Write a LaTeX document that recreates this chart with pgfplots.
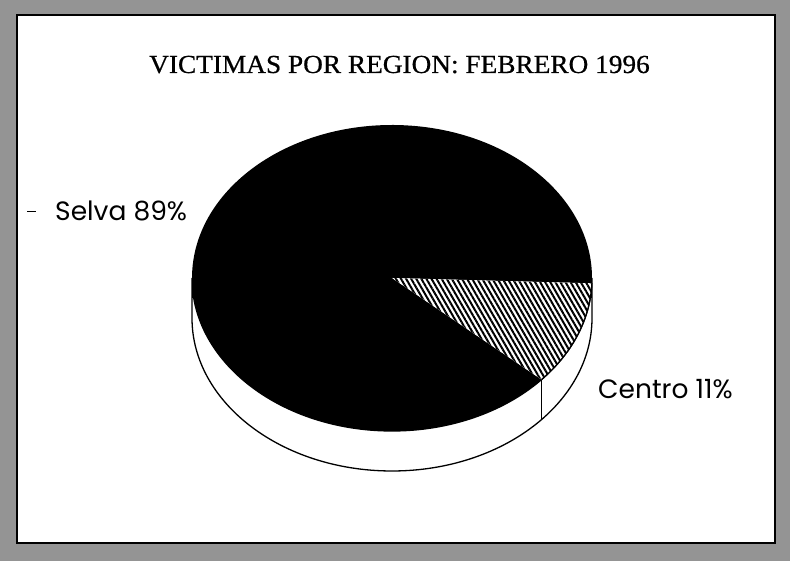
\documentclass[border=0pt]{standalone}
\usepackage{pgfplots}
\pgfplotsset{compat=1.18}
\usepackage{pgfplotstable}
\usetikzlibrary{patterns.meta}
\usepackage{fontspec}
\setmainfont{Liberation Serif}
\newfontfamily\titlefont[FakeBold=0.6]{Liberation Serif}
\newfontfamily\labfont{Poppins}

\pgfplotstableread{
label value
Selva 89
Centro 11
}\piedata

\begin{document}
\begin{tikzpicture}
\pgfplotstablegetelem{1}{value}\of\piedata
\pgfmathsetmacro\vC{\pgfplotsretval}
\pgfmathsetmacro\aA{-2}
\pgfmathsetmacro\aB{\aA-3.6*\vC}
\pgfmathsetmacro\aSend{\aB+360}
\pgfmathsetmacro\cx{392}
\pgfmathsetmacro\cy{283}
\pgfmathsetmacro\rx{200}
\pgfmathsetmacro\ry{153}
\pgfmathsetmacro\dep{40}
\pgfmathsetmacro\xA{\cx+\rx*cos(\aA)}
\pgfmathsetmacro\yA{\cy+\ry*sin(\aA)}
\pgfmathsetmacro\xB{\cx+\rx*cos(\aB)}
\pgfmathsetmacro\yB{\cy+\ry*sin(\aB)}
\pgfmathsetmacro\xL{\cx-\rx}
\begin{axis}[
  scale only axis, width=790pt, height=561pt,
  xmin=0, xmax=790, ymin=0, ymax=561,
  hide axis, clip=false]
% frame
\fill[black!42] (axis cs:0,0) rectangle (axis cs:790,561);
\fill[white] (axis cs:17,18) rectangle (axis cs:775,546);
\draw[black, line width=1.6pt] (axis cs:17,18) rectangle (axis cs:775,546);
% side wall
\filldraw[fill=white, draw=black, line width=1.3pt]
  (axis cs:\xL,\cy) arc[start angle=180, end angle=360, x radius=\rx pt, y radius=\ry pt]
  -- ++(0,-\dep pt) arc[start angle=360, end angle=180, x radius=\rx pt, y radius=\ry pt] -- cycle;
\draw[black, line width=1.1pt] (axis cs:\xB,\yB) -- ++(0,-\dep pt);
% Selva slice
\fill[black] (axis cs:\cx,\cy) -- (axis cs:\xA,\yA)
  arc[start angle=\aA, end angle=\aSend, x radius=\rx pt, y radius=\ry pt] -- cycle;
% Centro slice
\fill[white] (axis cs:\cx,\cy) -- (axis cs:\xB,\yB)
  arc[start angle=\aB, end angle=\aA, x radius=\rx pt, y radius=\ry pt] -- cycle;
\fill[pattern={Lines[angle=-60,distance=4.4pt,line width=2pt]}, pattern color=black]
  (axis cs:\cx,\cy) -- (axis cs:\xB,\yB)
  arc[start angle=\aB, end angle=\aA, x radius=\rx pt, y radius=\ry pt] -- cycle;
\draw[black, line width=1.3pt] (axis cs:\xB,\yB)
  arc[start angle=\aB, end angle=\aA, x radius=\rx pt, y radius=\ry pt];
% labels
\node[anchor=base, font=\titlefont\fontsize{26}{30}\selectfont, xscale=1.05]
  at (axis cs:399.5,488) {VICTIMAS POR REGION: FEBRERO 1996};
\node[anchor=base west, inner sep=0pt, font=\labfont\fontsize{26.5}{30}\selectfont]
  at (axis cs:55,340) {Selva 89\%};
\draw[black, line width=1pt] (axis cs:27,349) -- (axis cs:36,349);
\node[anchor=base west, inner sep=0pt, font=\labfont\fontsize{26.5}{30}\selectfont]
  at (axis cs:598,162) {Centro 11\%};
\end{axis}
\end{tikzpicture}
\end{document}
